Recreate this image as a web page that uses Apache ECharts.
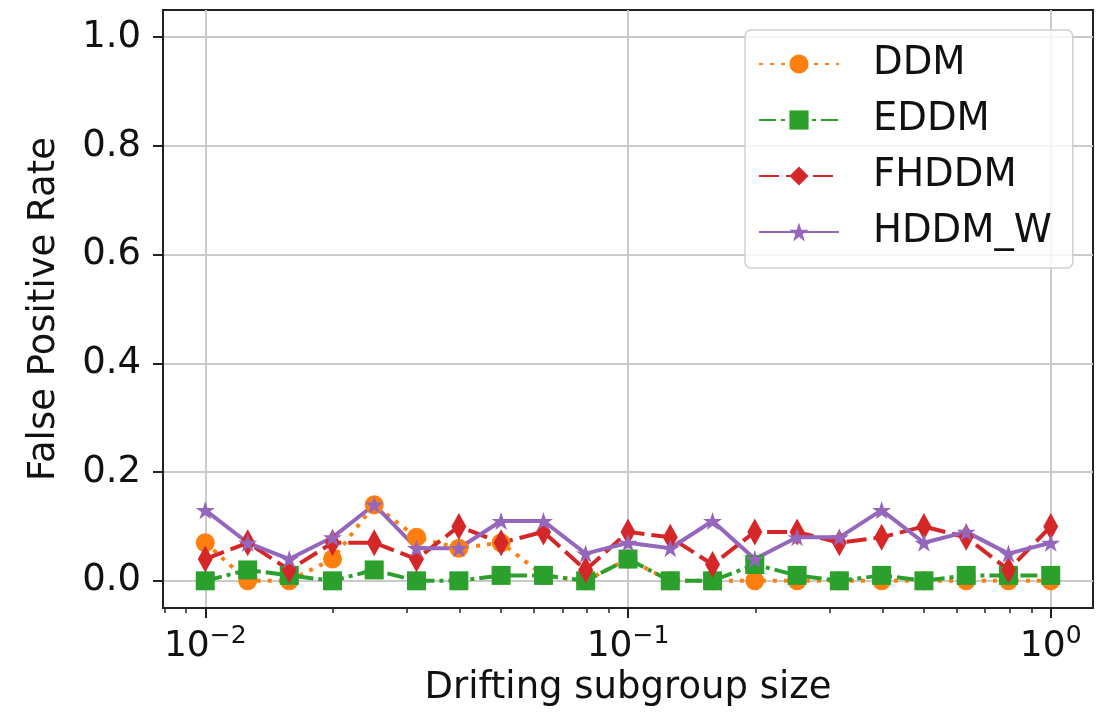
<!DOCTYPE html>
<html>
<head>
<meta charset="utf-8">
<script src="https://cdn.jsdelivr.net/npm/echarts@6/dist/echarts.min.js"></script>
<style>
html,body{margin:0;padding:0;background:#fff;}
#chart{width:1107px;height:717px;}
</style>
</head>
<body>
<div id="chart"></div>
<script>
// Drifting subgroup sizes (x values)
const sizes = [0.01, 0.0126, 0.0158, 0.02, 0.0251, 0.0316, 0.0398, 0.0501, 0.0631, 0.0794,
               0.1, 0.1259, 0.1585, 0.1995, 0.2512, 0.3162, 0.3981, 0.5012, 0.631, 0.7943, 1.0];
const ddm   = [0.07,0.00,0.00,0.04,0.14,0.08,0.06,0.07,0.01,0.00,0.04,0.00,0.00,0.00,0.00,0.00,0.00,0.00,0.00,0.00,0.00];
const eddm  = [0.00,0.02,0.01,0.00,0.02,0.00,0.00,0.01,0.01,0.00,0.04,0.00,0.00,0.03,0.01,0.00,0.01,0.00,0.01,0.01,0.01];
const fhddm = [0.04,0.07,0.02,0.07,0.07,0.04,0.10,0.07,0.09,0.02,0.09,0.08,0.03,0.09,0.09,0.07,0.08,0.10,0.08,0.02,0.10];
const hddmw = [0.13,0.07,0.04,0.08,0.14,0.06,0.06,0.11,0.11,0.05,0.07,0.06,0.11,0.04,0.08,0.08,0.13,0.07,0.09,0.05,0.07];
const seriesNames = ['DDM', 'EDDM', 'FHDDM', 'HDDM_W'];
const yTicks = [0, 0.2, 0.4, 0.6, 0.8, 1.0];
const xMajorTicks = [0.01, 0.1, 1];
const xMinorTicks = [0.008, 0.009, 0.02, 0.03, 0.04, 0.05, 0.06, 0.07, 0.08, 0.09,
                     0.2, 0.3, 0.4, 0.5, 0.6, 0.7, 0.8, 0.9];

const FONT = 'DejaVu Sans';
const TXT = '#111';
const STAR = 'path://M100 0 L122.45 69.1 L195.11 69.1 L136.33 111.8 L158.78 180.9 L100 138.2 L41.22 180.9 L63.67 111.8 L4.89 69.1 L77.55 69.1 Z';

function pairs(ys) { return sizes.map((x, i) => [x, ys[i]]); }

const chart = echarts.init(document.getElementById('chart'), null, {renderer: 'canvas'});

function mk(name, ys, color, dash, symbol, size, extra) {
  return Object.assign({
    name: name,
    type: 'line',
    data: pairs(ys),
    xAxisIndex: 0,
    yAxisIndex: 0,
    symbol: symbol,
    symbolSize: size,
    showAllSymbol: true,
    animation: false,
    itemStyle: {color: color, borderWidth: 0},
    lineStyle: {color: color, width: 4, type: dash, cap: 'butt'},
    emphasis: {disabled: true}
  }, extra || {});
}

const gridBox = {left: 163, top: 10, right: 14, bottom: 109};

const option = {
  animation: false,
  backgroundColor: '#ffffff',
  grid: [
    Object.assign({show: true, borderColor: '#222', borderWidth: 2, backgroundColor: 'transparent'}, gridBox),
    Object.assign({show: false}, gridBox)
  ],
  legend: {
    orient: 'vertical',
    left: 745, top: 30,
    data: seriesNames,
    itemWidth: 80, itemHeight: 24, itemGap: 14,
    padding: [13, 21, 15, 13],
    backgroundColor: 'rgba(255,255,255,0.8)',
    borderColor: '#cfcfcf', borderWidth: 1.5, borderRadius: 6,
    textStyle: {fontFamily: FONT, fontSize: 38.5, color: TXT, lineHeight: 42, padding: [0, 0, 0, 29]},
    selectedMode: false
  },
  xAxis: [
    {
      type: 'log', logBase: 10, gridIndex: 0,
      min: 0.0079433, max: 1.2589,
      name: 'Drifting subgroup size', nameLocation: 'middle', nameGap: 62,
      nameTextStyle: {fontFamily: FONT, fontSize: 37, color: TXT},
      axisLine: {show: true, onZero: false, lineStyle: {color: '#222', width: 2}},
      axisTick: {show: true, interval: 0, length: 10, lineStyle: {color: '#222', width: 2}, customValues: xMajorTicks},
      axisLabel: {
        customValues: xMajorTicks, interval: 0, margin: 17, color: TXT, fontFamily: FONT,
        formatter: function (v) {
          const e = Math.round(Math.log10(v));
          return '{b|10}{s|' + (e < 0 ? '\u2212' + (-e) : e) + '}';
        },
        rich: {
          b: {fontFamily: FONT, fontSize: 36, color: TXT, verticalAlign: 'bottom', lineHeight: 40},
          s: {fontFamily: FONT, fontSize: 25, color: TXT, verticalAlign: 'bottom', lineHeight: 40, padding: [0, 0, 16, 0]}
        }
      },
      splitLine: {show: true, interval: 0, lineStyle: {color: '#cacaca', width: 2}},
      minorTick: {show: false}
    },
    {
      type: 'log', logBase: 10, gridIndex: 1,
      min: 0.0079433, max: 1.2589,
      position: 'bottom',
      axisLine: {show: false, onZero: false},
      axisTick: {show: true, interval: 0, inside: false, length: 5, lineStyle: {color: '#222', width: 1.5}, customValues: xMinorTicks},
      axisLabel: {show: false, interval: 0, customValues: xMinorTicks},
      splitLine: {show: false}
    }
  ],
  yAxis: [
    {
      type: 'value', gridIndex: 0,
      min: -0.05, max: 1.05,
      name: 'False Positive Rate', nameLocation: 'middle', nameGap: 100,
      nameTextStyle: {fontFamily: FONT, fontSize: 37, color: TXT},
      axisLine: {show: true, onZero: false, lineStyle: {color: '#222', width: 2}},
      axisTick: {show: true, length: 10, lineStyle: {color: '#222', width: 2}, customValues: yTicks},
      axisLabel: {
        customValues: yTicks, margin: 22, color: TXT, fontFamily: FONT, fontSize: 37,
        formatter: function (v) { return v.toFixed(1); }
      },
      splitLine: {show: true, lineStyle: {color: '#cacaca', width: 2}}
    },
    {
      type: 'value', gridIndex: 1, min: -0.05, max: 1.05, show: false
    }
  ],
  series: [
    mk('DDM', ddm, '#ff7f0e', [4, 7], 'circle', 19),
    mk('EDDM', eddm, '#2ca02c', [17, 5, 4, 5], 'rect', 19),
    mk('FHDDM', fhddm, '#d62728', [20, 7], 'diamond', [15, 27]),
    mk('HDDM_W', hddmw, '#9467bd', 'solid', STAR, 19, {symbolKeepAspect: true})
  ]
};
chart.setOption(option);
</script>
</body>
</html>
